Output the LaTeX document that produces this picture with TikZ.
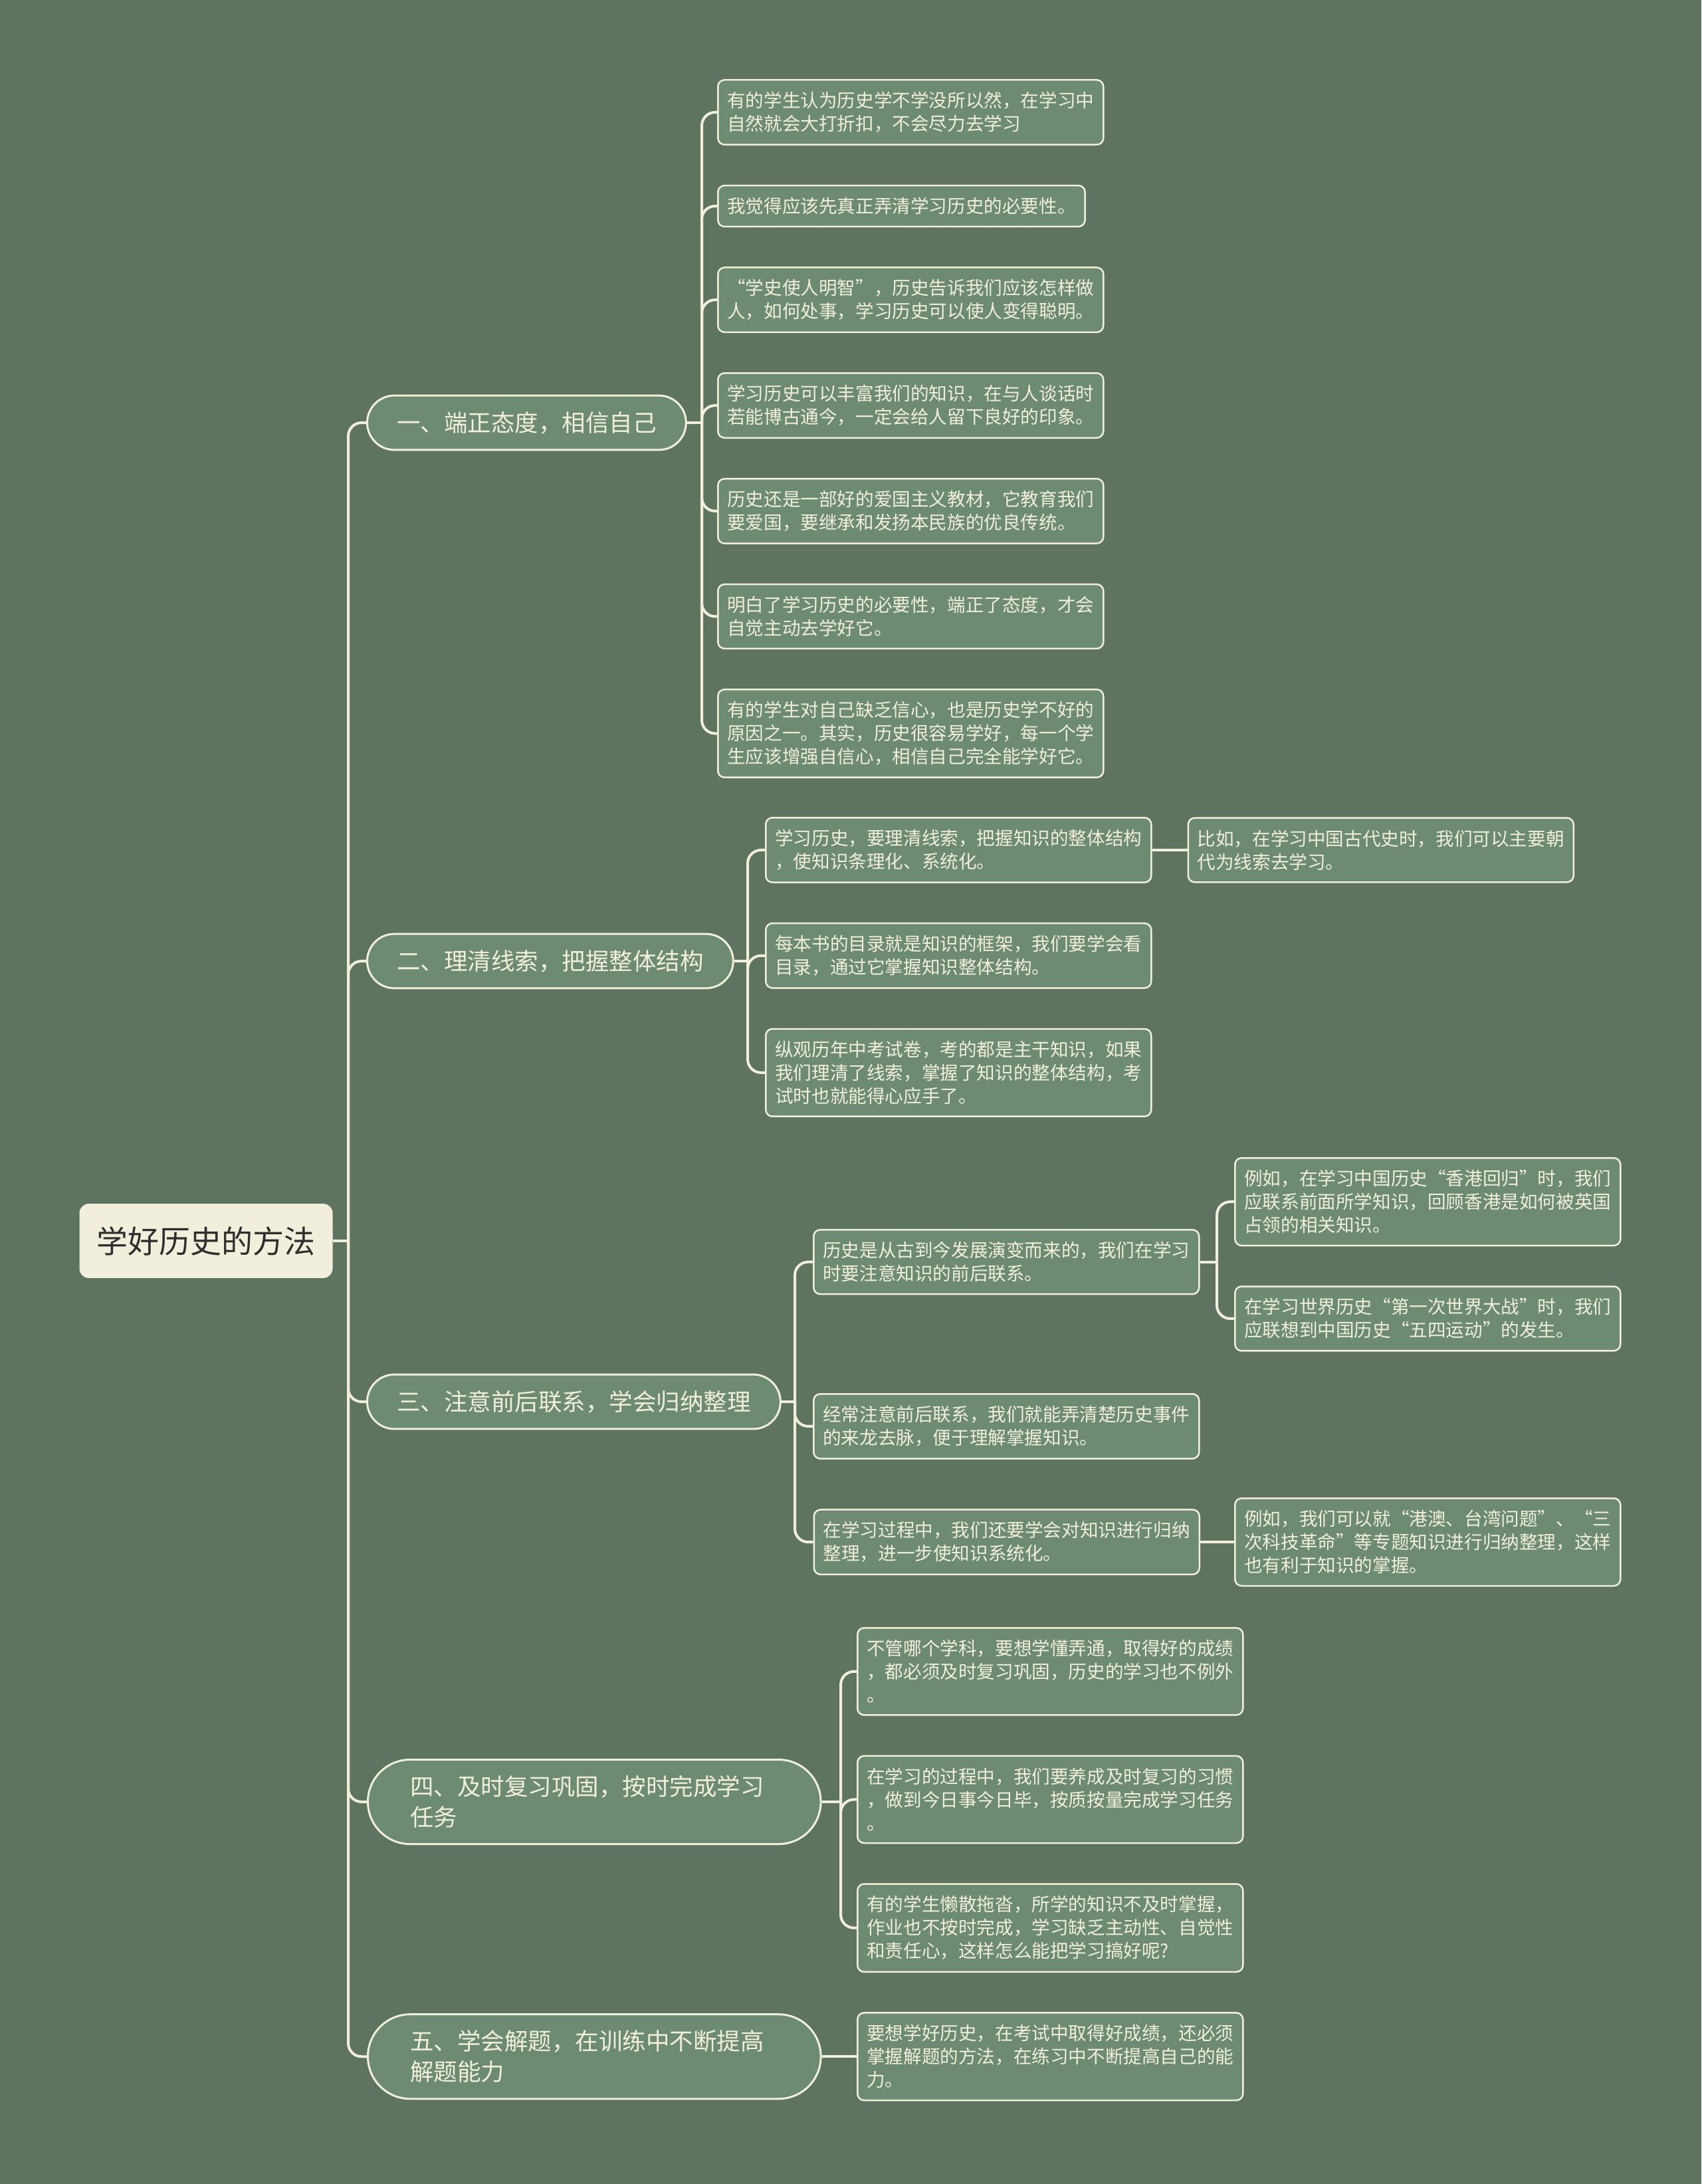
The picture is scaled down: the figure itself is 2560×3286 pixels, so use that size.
\documentclass[tikz,border=0pt]{standalone}
\usepackage{fontspec}
\setmainfont{Noto Sans CJK SC}
\usetikzlibrary{positioning,shapes.misc}
\definecolor{board}{HTML}{5F7361}
\definecolor{sage}{HTML}{6D8B73}
\definecolor{cream}{HTML}{F2EEDC}
\definecolor{ink}{HTML}{2E2E2E}
\tikzset{central/.style={fill=cream,rounded corners=14pt,inner xsep=26pt,inner ysep=34pt,text=ink,font=\fontsize{47pt}{56pt}\selectfont},topic/.style={rounded rectangle,draw=cream,line width=3pt,fill=sage,text=cream,inner xsep=41pt,inner ysep=24pt,align=left,font=\fontsize{35.5pt}{46pt}\selectfont},leaf/.style={draw=cream,line width=2.5pt,rounded corners=10pt,fill=sage,text=cream,inner xsep=14pt,inner ysep=18pt,align=left,font=\fontsize{27.6pt}{35pt}\selectfont},link/.style={draw=cream,line width=4pt}}

\begin{document}
\begin{tikzpicture}[x=1pt,y=-1pt,node distance=59pt]
\fill[board] (0,0) rectangle (2560,3286);
\node[central] (central) at (310,1867) {学好历史的方法};
\node[topic,anchor=west] (br1) at (551,636) {一、端正态度，相信自己};
\node[topic,anchor=west] (br2) at (551,1446) {二、理清线索，把握整体结构};
\node[topic,anchor=west] (br3) at (551,2109) {三、注意前后联系，学会归纳整理};
\node[topic,anchor=west,text width=554pt,inner xsep=50pt] (br4) at (552,2711) {四、及时复习巩固，按时完成学习\\任务};
\node[leaf,anchor=north west] (n11) at (1079,119) {有的学生认为历史学不学没所以然，在学习中\\自然就会大打折扣，不会尽力去学习};
\node[leaf,below=of n11.south west,anchor=north west] (n12) {我觉得应该先真正弄清学习历史的必要性。};
\node[leaf,below=of n12.south west,anchor=north west] (n13) {“学史使人明智”，历史告诉我们应该怎样做\\人，如何处事，学习历史可以使人变得聪明。};
\node[leaf,below=of n13.south west,anchor=north west] (n14) {学习历史可以丰富我们的知识，在与人谈话时\\若能博古通今，一定会给人留下良好的印象。};
\node[leaf,below=of n14.south west,anchor=north west] (n15) {历史还是一部好的爱国主义教材，它教育我们\\要爱国，要继承和发扬本民族的优良传统。};
\node[leaf,below=of n15.south west,anchor=north west] (n16) {明白了学习历史的必要性，端正了态度，才会\\自觉主动去学好它。};
\node[leaf,below=of n16.south west,anchor=north west] (n17) {有的学生对自己缺乏信心，也是历史学不好的\\原因之一。其实，历史很容易学好，每一个学\\生应该增强自信心，相信自己完全能学好它。};
\node[leaf,anchor=north west] (n21) at (1151,1229) {学习历史，要理清线索，把握知识的整体结构\\，使知识条理化、系统化。};
\node[leaf,right=53pt of n21] (n211) {比如，在学习中国古代史时，我们可以主要朝\\代为线索去学习。};
\node[leaf,below=of n21.south west,anchor=north west] (n22) {每本书的目录就是知识的框架，我们要学会看\\目录，通过它掌握知识整体结构。};
\node[leaf,below=of n22.south west,anchor=north west] (n23) {纵观历年中考试卷，考的都是主干知识，如果\\我们理清了线索，掌握了知识的整体结构，考\\试时也就能得心应手了。};
\node[leaf,anchor=north west] (n311) at (1857,1741) {例如，在学习中国历史“香港回归”时，我们\\应联系前面所学知识，回顾香港是如何被英国\\占领的相关知识。};
\node[leaf,below=of n311.south west,anchor=north west] (n312) {在学习世界历史“第一次世界大战”时，我们\\应联想到中国历史“五四运动”的发生。};
\node[leaf,anchor=north west] (n31) at (1223,1849) {历史是从古到今发展演变而来的，我们在学习\\时要注意知识的前后联系。};
\node[leaf,anchor=north west] (n32) at (1223,2096) {经常注意前后联系，我们就能弄清楚历史事件\\的来龙去脉，便于理解掌握知识。};
\node[leaf,anchor=north west] (n331) at (1857,2253) {例如，我们可以就“港澳、台湾问题”、“三\\次科技革命”等专题知识进行归纳整理，这样\\也有利于知识的掌握。};
\node[leaf,left=51pt of n331] (n33) {在学习过程中，我们还要学会对知识进行归纳\\整理，进一步使知识系统化。};
\node[leaf,anchor=north west] (n41) at (1289,2448) {不管哪个学科，要想学懂弄通，取得好的成绩\\，都必须及时复习巩固，历史的学习也不例外\\。};
\node[leaf,below=of n41.south west,anchor=north west] (n42) {在学习的过程中，我们要养成及时复习的习惯\\，做到今日事今日毕，按质按量完成学习任务\\。};
\node[leaf,below=of n42.south west,anchor=north west] (n43) {有的学生懒散拖沓，所学的知识不及时掌握，\\作业也不按时完成，学习缺乏主动性、自觉性\\和责任心，这样怎么能把学习搞好呢?};
\node[leaf,below=of n43.south west,anchor=north west] (n51) {要想学好历史，在考试中取得好成绩，还必须\\掌握解题的方法，在练习中不断提高自己的能\\力。};
\node[topic,anchor=west,text width=554pt,inner xsep=50pt] (br5) at (552,0 |- n51.west) {五、学会解题，在训练中不断提高\\解题能力};
\path (br1.west |- central.east) ++(-27,0) coordinate (jr);
\path (n11.west |- br1.east) ++(-23,0) coordinate (j1);
\path (n21.west |- br2.east) ++(-26,0) coordinate (j2);
\path (n31.west |- br3.east) ++(-27,0) coordinate (j3);
\path (n311.west |- n31.east) ++(-26,0) coordinate (j31);
\path (n41.west |- br4.east) ++(-24,0) coordinate (j4);
\draw[link] (central.east) -- (jr);
\foreach \i in {1,...,5}\draw[link,rounded corners=20pt] (jr) |- (br\i.west);
\draw[link] (br1.east) -- (j1);
\foreach \i in {1,...,7}\draw[link,rounded corners=20pt] (j1) |- (n1\i.west);
\draw[link] (br2.east) -- (j2);
\foreach \i in {1,2,3}\draw[link,rounded corners=20pt] (j2) |- (n2\i.west);
\draw[link] (n21.east) -- (n211.west);
\draw[link] (br3.east) -- (j3);
\foreach \i in {1,2,3}\draw[link,rounded corners=20pt] (j3) |- (n3\i.west);
\draw[link] (n31.east) -- (j31);
\foreach \i in {1,2}\draw[link,rounded corners=20pt] (j31) |- (n31\i.west);
\draw[link] (n33.east) -- (n331.west);
\draw[link] (br4.east) -- (j4);
\foreach \i in {1,2,3}\draw[link,rounded corners=20pt] (j4) |- (n4\i.west);
\draw[link] (br5.east) -- (n51.west);
\end{tikzpicture}
\end{document}
